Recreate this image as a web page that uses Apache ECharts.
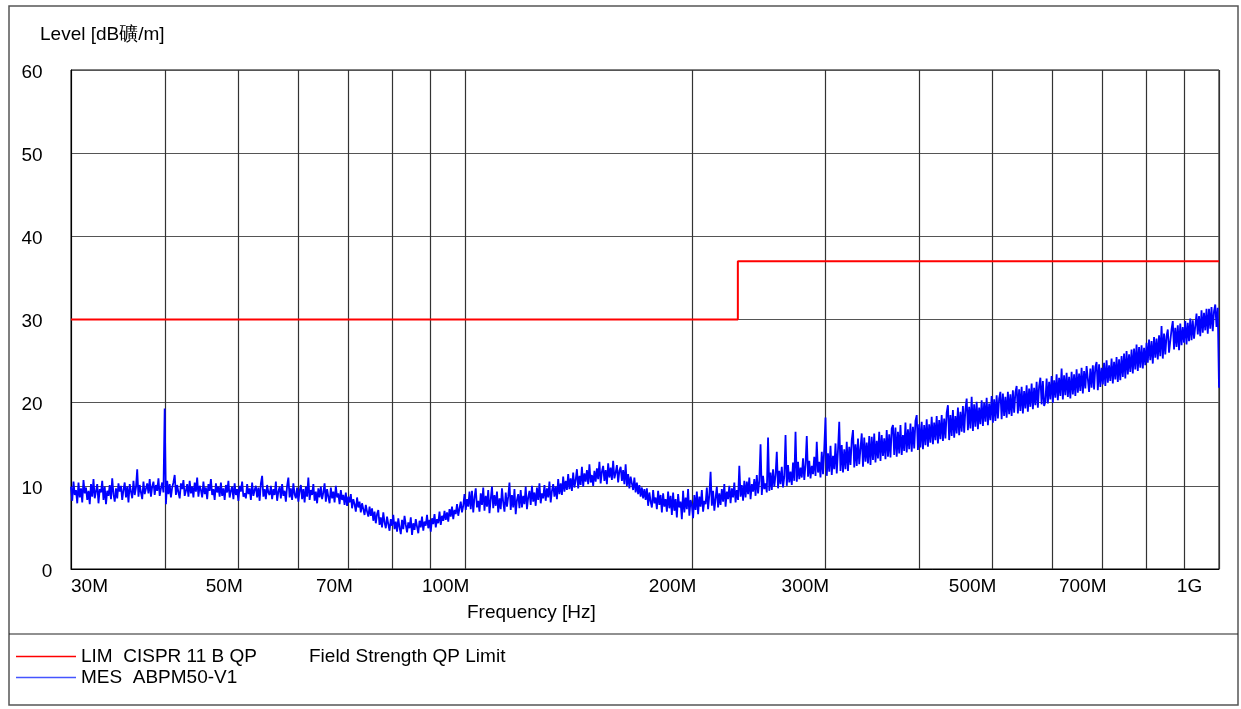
<!DOCTYPE html>
<html>
<head>
<meta charset="utf-8">
<script src="https://cdn.jsdelivr.net/npm/echarts@6/dist/echarts.min.js"></script>
<style>
html,body{margin:0;padding:0;background:#fff;}
#chart{width:1241px;height:709px;}
</style>
</head>
<body>
<div id="chart"></div>
<script>
// ---- data ----
const yTitle = 'Level [dB礦/m]';
const xTitle = 'Frequency [Hz]';
const xTickValues = [30, 50, 70, 100, 200, 300, 500, 700, 1000];   // MHz
const xTickLabels = ['30M', '50M', '70M', '100M', '200M', '300M', '500M', '700M', '1G'];
const xGridValues = [30, 40, 50, 60, 70, 80, 90, 100, 200, 300, 400, 500, 600, 700, 800, 900, 1000];
const limitName = 'LIM  CISPR 11 B QP';
const limitDesc = 'Field Strength QP Limit';
const limitFreq = [30, 230, 230, 1000];   // MHz
const limitLevel = [30, 30, 37, 37];       // dB
const measName = 'MES  ABPM50-V1';
const sweepStartMHz = 30;
const sweepStopMHz = 1000;
const measLevel = [
  9.9,8.2,10.5,8.9,9.5,7.9,10.4,8.6,9.7,8.0,10.7,9.1,9.8,8.3,9.4,7.8,10.2,8.7,10.8,8.5,
  8.6,10.2,7.9,9.6,9.2,10.6,8.3,9.9,7.8,9.4,8.8,10.1,8.4,10.9,9.0,8.1,9.7,8.5,10.3,9.3,
  10.0,8.3,9.5,10.4,8.6,9.9,8.0,10.2,9.3,8.5,10.6,8.9,9.8,12.0,8.7,10.1,9.2,8.4,10.5,9.0,
  8.8,10.3,9.1,10.8,8.7,9.9,10.5,8.9,10.1,9.4,10.9,8.8,9.7,10.4,9.2,19.3,7.8,10.6,9.0,10.2,
  8.6,9.8,10.4,11.3,8.9,10.1,9.2,8.5,10.3,9.6,10.7,8.8,9.4,10.2,8.7,10.6,9.1,9.9,8.6,10.4,
  9.3,11.0,8.7,10.0,9.5,8.6,10.5,9.0,9.8,8.4,10.2,9.4,10.8,8.9,9.6,8.3,10.3,9.2,9.9,8.7,
  10.4,8.8,9.7,8.3,10.1,9.2,10.6,8.6,9.4,9.9,8.4,10.3,8.9,9.6,8.2,10.0,9.3,10.5,8.7,9.1,
  8.5,10.2,9.0,9.7,8.3,10.4,8.8,9.5,10.0,8.6,9.8,8.2,10.3,11.2,8.7,9.6,8.4,10.1,9.2,8.9,
  10.0,8.4,9.6,8.9,10.5,8.2,9.3,9.9,8.5,10.2,8.8,9.4,8.1,10.0,11.0,8.6,9.7,8.3,10.3,9.0,
  8.5,9.8,8.1,9.4,10.1,8.4,9.6,8.0,9.9,8.7,11.0,8.3,9.5,8.9,10.2,8.2,9.3,7.9,9.7,8.6,
  9.9,8.4,9.2,10.3,8.1,9.6,8.7,7.9,9.8,8.5,9.3,8.0,10.0,8.6,9.1,7.8,9.5,8.3,8.9,7.7,
  9.2,7.6,8.7,8.0,9.0,7.3,8.4,7.8,6.9,8.6,7.4,8.1,6.8,7.9,7.2,6.5,7.7,6.9,6.3,7.5,
  6.4,7.3,5.8,6.9,5.5,6.6,7.1,5.3,6.2,5.0,6.8,5.6,4.9,6.3,5.4,4.6,6.0,5.2,6.5,4.8,
  5.7,4.5,6.1,5.0,4.2,5.9,4.8,6.4,5.3,4.4,5.6,4.9,6.2,4.1,5.5,4.7,6.0,5.1,4.3,5.8,
  5.0,6.3,4.6,5.7,5.2,6.5,4.9,5.9,4.5,6.1,5.4,6.6,5.0,6.0,5.5,6.9,5.3,6.4,5.8,7.0,
  5.9,6.8,5.7,7.2,6.3,7.5,6.0,7.1,6.6,7.8,6.4,7.3,8.1,6.8,7.6,9.0,7.1,8.4,7.5,9.3,
  7.2,9.4,6.8,8.6,9.7,7.4,8.2,6.9,9.1,7.7,9.8,7.0,8.8,7.5,9.5,6.7,8.4,9.9,7.3,8.9,
  7.6,9.3,6.8,8.5,7.2,9.7,8.0,6.9,9.2,7.5,8.7,10.4,7.1,8.9,7.4,9.6,6.6,8.3,9.0,7.3,
  9.5,7.4,8.8,7.8,9.9,7.2,8.6,9.4,7.7,10.0,8.1,9.2,7.6,9.8,8.3,10.3,7.9,9.1,8.5,10.1,
  8.2,9.7,8.6,10.5,8.0,9.4,10.2,8.7,9.9,8.4,10.8,9.0,10.3,8.9,11.1,9.3,10.6,9.5,11.4,9.6,
  10.9,9.4,11.6,9.8,10.7,12.0,9.7,11.2,10.1,12.3,9.9,11.5,10.5,11.9,10.2,12.6,10.4,11.3,10.0,11.8,
  10.5,12.1,10.8,12.9,10.3,11.7,12.4,10.6,11.9,10.2,12.7,11.0,12.2,10.7,13.0,10.9,11.6,12.5,10.4,11.8,
  12.3,10.6,11.9,10.2,12.6,10.0,11.4,9.7,11.1,10.3,9.5,11.0,9.2,10.4,9.0,10.1,8.7,9.8,8.5,9.6,
  8.3,9.7,7.6,9.2,8.1,7.4,9.5,7.9,8.6,7.2,9.4,7.7,8.9,6.8,9.1,7.5,8.4,6.9,9.3,7.3,
  8.8,6.5,9.2,7.0,8.4,6.2,9.0,7.4,8.1,6.0,9.4,6.8,8.6,7.2,9.6,6.4,8.3,7.7,6.1,8.9,
  7.1,9.3,6.6,8.7,7.5,9.5,6.9,8.2,7.8,9.8,7.2,8.9,11.7,7.6,9.4,7.0,8.5,9.9,7.4,9.1,
  7.7,9.6,8.1,10.2,7.5,9.3,8.4,10.0,7.9,9.7,8.6,10.4,8.0,9.5,8.3,12.4,8.7,10.1,8.2,10.6,
  8.6,10.5,9.0,11.0,8.4,10.2,9.3,10.8,8.8,11.3,9.1,10.6,15.0,8.9,11.2,9.6,10.3,9.2,15.8,9.4,
  11.6,9.5,12.0,9.9,11.3,14.1,9.7,11.8,10.2,12.3,9.8,11.1,16.1,10.0,12.5,10.4,11.7,10.1,12.8,10.6,
  16.5,10.5,12.9,10.8,12.2,11.0,13.3,10.7,12.6,16.0,11.1,13.0,10.9,12.4,11.4,13.5,11.2,15.3,11.6,12.9,
  11.0,14.1,11.4,14.5,18.2,11.2,13.9,11.7,14.8,11.3,13.6,12.0,15.1,11.5,14.3,17.7,11.8,14.9,11.6,14.4,
  12.0,15.3,11.8,14.7,12.5,15.5,16.7,12.2,15.0,12.4,15.7,12.6,14.5,16.3,12.3,15.8,12.9,15.2,12.7,16.0,
  12.5,15.9,13.1,16.3,12.8,15.4,13.3,16.5,13.0,16.1,13.6,15.7,13.2,16.7,13.5,16.2,13.4,16.9,17.3,13.7,
  17.0,13.5,16.5,13.9,17.3,13.7,16.1,14.2,17.6,14.0,16.8,14.4,17.5,14.1,17.1,14.5,17.8,18.5,14.3,17.4,
  14.6,17.7,14.4,17.3,14.9,18.0,14.7,17.4,15.2,18.3,15.0,17.6,15.5,18.4,15.1,17.9,15.6,18.5,15.4,18.1,
  15.7,18.8,19.7,15.5,18.5,16.0,19.1,15.8,18.4,16.3,19.4,16.1,18.9,16.5,19.6,16.4,19.2,20.5,16.7,19.5,
  16.9,20.7,16.6,19.8,17.1,20.1,16.8,19.4,17.4,20.3,17.2,20.0,17.7,20.6,17.3,19.9,17.9,20.8,17.6,20.4,
  17.8,20.9,18.1,20.5,21.3,18.0,21.1,18.4,20.7,18.2,21.3,18.6,21.0,18.4,21.5,18.8,21.2,22.0,18.7,21.6,
  19.0,21.9,18.7,21.4,19.3,22.1,18.9,21.7,19.5,22.3,19.2,21.8,19.7,22.5,19.4,22.0,23.0,19.8,22.6,19.6,
  20.1,22.9,19.9,22.5,20.4,23.2,20.0,22.7,20.6,23.4,20.3,23.0,20.8,24.1,20.4,23.3,20.9,23.6,20.7,23.1,
  20.5,23.7,21.0,23.4,20.8,24.0,21.2,23.5,21.4,24.2,21.1,23.8,21.7,24.4,24.6,21.3,24.1,21.8,24.5,21.6,
  24.3,24.9,21.5,24.6,21.9,24.2,22.2,24.8,22.0,25.1,22.4,24.5,22.6,25.3,22.3,24.9,22.8,25.5,22.5,25.2,
  22.7,25.6,23.1,25.9,22.9,26.2,23.4,25.8,23.7,26.4,23.5,26.5,24.0,27.0,23.8,26.7,24.2,26.9,24.1,26.6,
  24.5,27.2,24.8,27.6,25.1,27.4,24.7,27.9,25.4,27.7,25.2,28.1,25.6,29.2,25.3,28.3,25.8,28.0,28.8,26.0,
  26.1,28.8,29.8,26.4,29.0,26.7,29.3,26.3,29.5,26.9,29.1,27.2,29.8,27.0,29.6,27.4,30.1,27.5,29.9,27.7,
  27.9,30.7,28.2,30.4,28.0,31.1,28.4,30.8,28.7,31.3,28.3,31.3,28.9,31.5,28.6,31.0,31.8,29.1,31.4,21.8
];

// ---- build series data (log-stepped sweep) ----
const n = measLevel.length;
const measData = measLevel.map((v, i) => [
  sweepStartMHz * Math.pow(sweepStopMHz / sweepStartMHz, i / (n - 1)), v
]);
const limitData = limitFreq.map((f, i) => [f, limitLevel[i]]);

const FONT = 'Liberation Sans, Arial, sans-serif';
const FS = 19;
const labelStyleKey = {
  '30M': 'a', '1G': 'g',
  '50M': 'm', '70M': 'm',
  '100M': 'h', '200M': 'h', '300M': 'h', '500M': 'h', '700M': 'h'
};

const chart = echarts.init(document.getElementById('chart'), null, {renderer: 'canvas'});
chart.setOption({
  animation: false,
  backgroundColor: '#fff',
  textStyle: {fontFamily: FONT},
  title: [
    {text: yTitle, left: 40, top: 25, padding: 0, textStyle: {fontSize: FS, fontWeight: 'normal', color: '#000', fontFamily: FONT}},
    {text: xTitle, left: 467, top: 603, padding: 0, textStyle: {fontSize: FS, fontWeight: 'normal', color: '#000', fontFamily: FONT}}
  ],
  grid: {left: 71, top: 70, right: 22, bottom: 140, show: true, borderColor: '#000', borderWidth: 1, containLabel: false},
  xAxis: {
    type: 'log', logBase: 10, min: 30, max: 1000,
    axisLine: {show: true, lineStyle: {color: '#000', width: 1}},
    axisTick: {show: false, customValues: xGridValues},
    splitLine: {show: true, lineStyle: {color: '#333', width: 1.2}},
    minorSplitLine: {show: false},
    axisLabel: {
      customValues: xTickValues,
      showMinLabel: true, showMaxLabel: true,
      margin: 8, align: 'center', color: '#000', fontSize: FS, fontFamily: FONT,
      formatter: function (v) {
        let idx = xTickValues.findIndex(t => Math.abs(t - v) < 1e-6 * t);
        if (idx < 0) return '';
        const t = xTickLabels[idx];
        return '{' + labelStyleKey[t] + '|' + t + '}';
      },
      rich: {
        a: {fontSize: FS, color: '#000', fontFamily: FONT, padding: [0, 0, 0, 37]},
        m: {fontSize: FS, color: '#000', fontFamily: FONT, padding: [0, 28, 0, 0]},
        h: {fontSize: FS, color: '#000', fontFamily: FONT, padding: [0, 39, 0, 0]},
        g: {fontSize: FS, color: '#000', fontFamily: FONT, padding: [0, 59, 0, 0]}
      }
    }
  },
  yAxis: {
    type: 'value', min: 0, max: 60, interval: 10,
    axisLine: {show: true, lineStyle: {color: '#000'}},
    axisTick: {show: false},
    splitLine: {show: true, lineStyle: {color: '#555', width: 1.2}},
    axisLabel: {
      margin: 39, align: 'center', color: '#000', fontSize: FS, fontFamily: FONT,
      formatter: function (v) { return v === 0 ? '{z|0}' : '{n|' + v + '}'; },
      rich: {
        z: {fontSize: FS, color: '#000', fontFamily: FONT, padding: [5, 0, 0, 30]},
        n: {fontSize: FS, color: '#000', fontFamily: FONT, padding: [5, 0, 0, 0]}
      }
    }
  },
  legend: {
    orient: 'vertical', left: 16, top: 646, padding: 0, itemWidth: 60, itemHeight: 1.5, itemGap: 0,
    icon: 'rect',
    textStyle: {fontSize: FS, color: '#000', lineHeight: 21, fontFamily: FONT,
      rich: {
        a: {fontSize: FS, color: '#000', width: 228, fontFamily: FONT},
        b: {fontSize: FS, color: '#000', fontFamily: FONT}
      }
    },
    data: [limitName, measName],
    formatter: function (name) {
      if (name === limitName) return '{a|' + limitName + '}{b|' + limitDesc + '}';
      return '{a|' + name + '}';
    }
  },
  series: [
    {
      name: limitName, type: 'line', data: limitData, symbol: 'none',
      lineStyle: {color: '#ff0000', width: 2}, itemStyle: {color: '#ff0000'}, z: 3
    },
    {
      name: measName, type: 'line', data: measData, symbol: 'none',
      lineStyle: {color: '#0000ff', width: 1.8}, itemStyle: {color: '#4455ff'}, z: 2
    }
  ],
  graphic: [
    {type: 'rect', shape: {x: 9, y: 6, width: 1229, height: 699}, style: {fill: 'none', stroke: '#555', lineWidth: 1.5}, silent: true},
    {type: 'line', shape: {x1: 9, y1: 634, x2: 1238, y2: 634}, style: {stroke: '#222', lineWidth: 1.2}, silent: true}
  ]
});
</script>
</body>
</html>
